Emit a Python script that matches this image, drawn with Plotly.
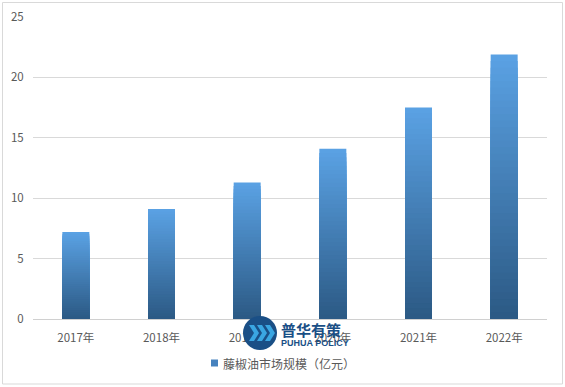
import plotly.graph_objects as go

categories = ["2017年", "2018年", "2019年", "2020年", "2021年", "2022年"]
values = [7.2, 9.1, 11.3, 14.1, 17.5, 21.9]
series_name = "藤椒油市场规模（亿元）"

W, H = 565, 387
L, R, T, B = 33, 18, 17, 68
PW, PH = W - L - R, H - T - B

def px(x):
    return (x - L) / PW

def py(y):
    return (H - B - y) / PH

top_rgb = (90, 161, 227)
bot_rgb = (44, 90, 133)
N = 40

fig = go.Figure()
for k in range(N):
    frac = (N - k) / N
    t = k / (N - 1)
    c = tuple(round(top_rgb[i] + (bot_rgb[i] - top_rgb[i]) * t) for i in range(3))
    fig.add_trace(go.Bar(
        x=categories, y=[v * frac for v in values],
        marker=dict(color=f"rgb{c}", line=dict(width=0)),
        width=0.315, showlegend=False, hoverinfo="skip", name=series_name,
    ))

font_family = "Noto Sans CJK SC, Microsoft YaHei, sans-serif"
fig.update_layout(
    width=W, height=H,
    margin=dict(l=L, r=R, t=T, b=B, autoexpand=False),
    paper_bgcolor="white", plot_bgcolor="white",
    barmode="overlay",
    font=dict(family=font_family, size=11, color="#595959"),
    xaxis=dict(showgrid=False, showline=True, linecolor="#d0d0d0", linewidth=1,
               ticks="outside", ticklen=8, tickcolor="rgba(0,0,0,0)",
               tickfont=dict(size=11.5, color="#595959")),
    yaxis=dict(range=[0, 25], dtick=5, showgrid=True, gridcolor="#d9d9d9", gridwidth=1,
               zeroline=False, showline=False, ticks="outside", ticklen=6,
               tickcolor="rgba(0,0,0,0)", tickfont=dict(size=11.5, color="#595959")),
    showlegend=False,
)

shapes = [
    dict(type="rect", xref="paper", yref="paper", x0=px(2.5), x1=px(562.5), y0=py(2.5), y1=py(384),
         line=dict(color="#d9d9d9", width=1), fillcolor="rgba(0,0,0,0)", layer="below"),
    dict(type="rect", xref="paper", yref="paper", x0=px(211), x1=px(218), y0=py(366.5), y1=py(359.5),
         line=dict(width=0), fillcolor="#4682be", layer="above"),
    dict(type="circle", xref="paper", yref="paper", x0=px(243), x1=px(277), y0=py(350), y1=py(316),
         line=dict(width=0), fillcolor="#1a4f86", layer="above"),
]
for cx in (249, 257, 265):
    pts = [(cx, 325), (cx + 5, 325), (cx + 10, 333), (cx + 5, 341), (cx, 341), (cx + 5, 333)]
    path = "M " + " L ".join(f"{px(a)},{py(b)}" for a, b in pts) + " Z"
    shapes.append(dict(type="path", xref="paper", yref="paper", path=path,
                       fillcolor="#3aa6e2", line=dict(width=0), layer="above"))
fig.update_layout(shapes=shapes)

fig.add_annotation(xref="paper", yref="paper", x=px(221), y=py(363), xanchor="left", yanchor="middle",
                   text=series_name, showarrow=False,
                   font=dict(family=font_family, size=12, color="#595959"))
fig.add_annotation(xref="paper", yref="paper", x=px(279), y=py(329), xanchor="left", yanchor="middle",
                   text="<b>普华有策</b>", showarrow=False,
                   font=dict(family=font_family, size=15, color="#1a4f86"))
fig.add_annotation(xref="paper", yref="paper", x=px(279), y=py(342.5), xanchor="left", yanchor="middle",
                   text="<b>PUHUA POLICY</b>", showarrow=False,
                   font=dict(family="Liberation Sans, Arial, sans-serif", size=9, color="#1a4f86"))

fig.write_html(
    "out.html",
    config={"displayModeBar": False},
    post_script="document.body.style.margin='0';document.body.style.padding='0';"
                "document.body.style.overflow='hidden';",
)
